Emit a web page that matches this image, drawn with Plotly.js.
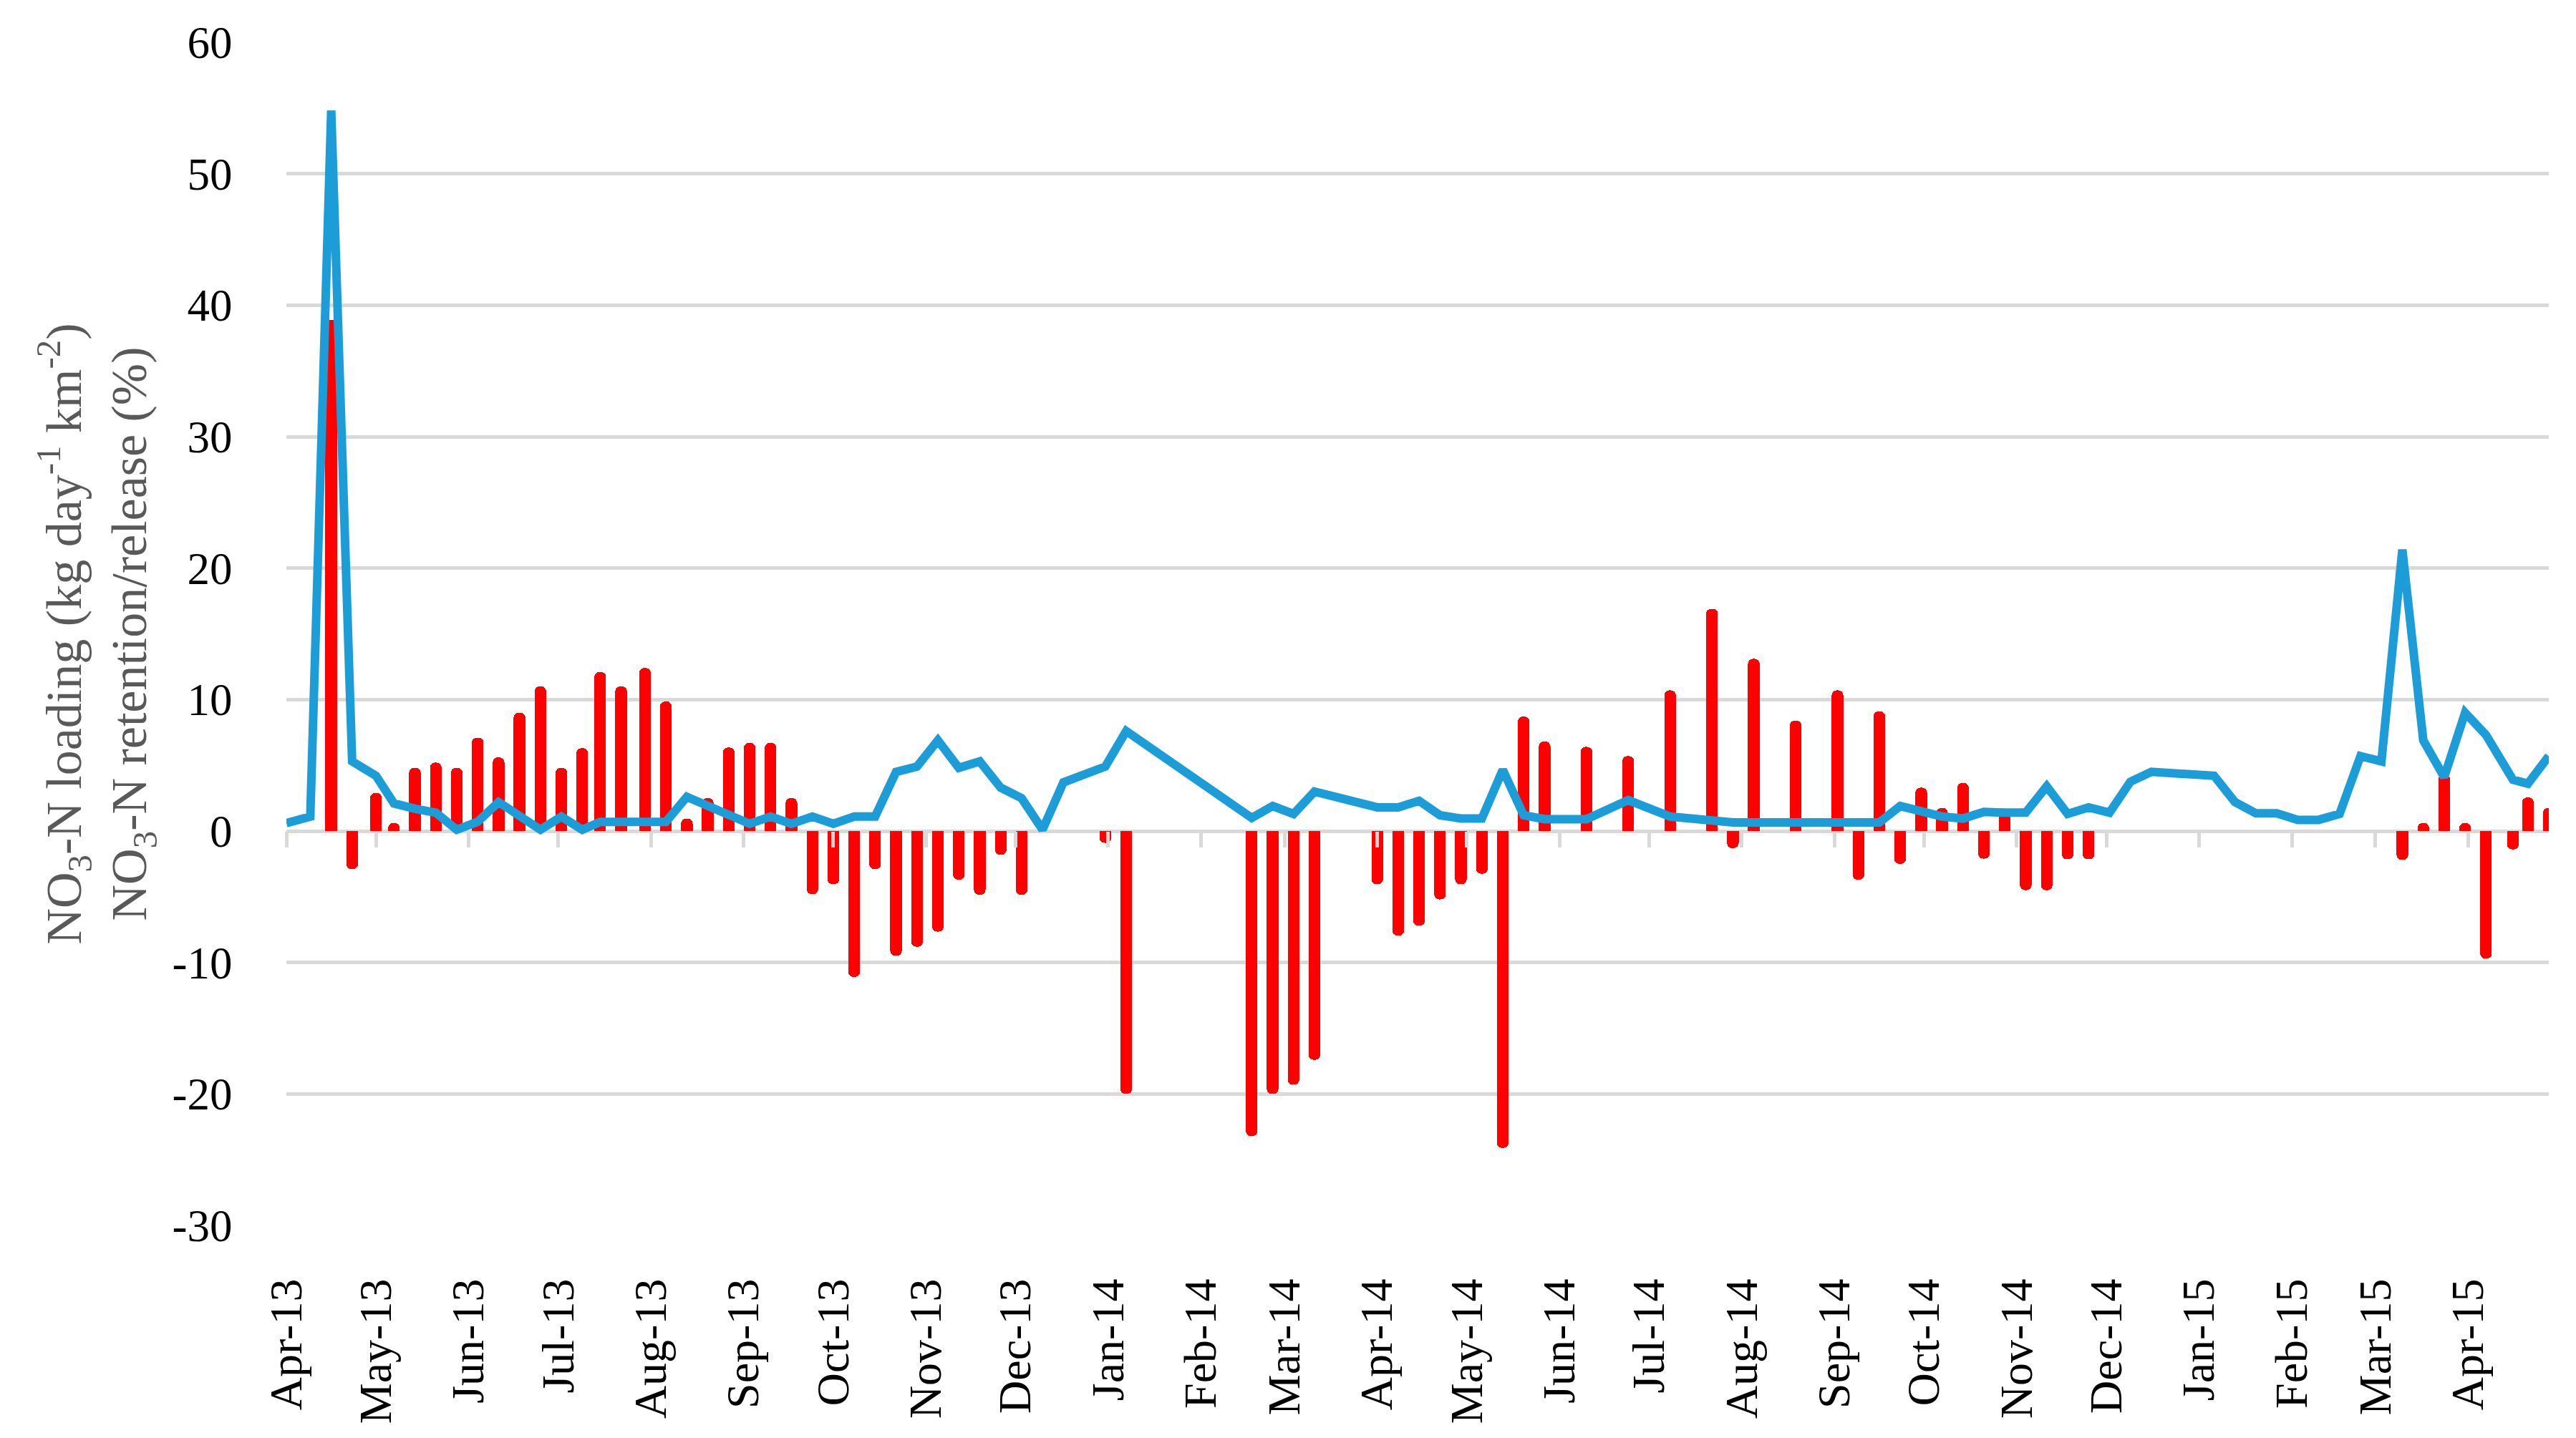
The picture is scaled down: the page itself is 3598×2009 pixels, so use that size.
<!DOCTYPE html>
<html>
<head>
<meta charset="utf-8">
<script src="https://cdn.plot.ly/plotly-3.0.1.min.js"></script>
<style>html,body{margin:0;padding:0;background:#fff;}#chart{width:3598px;height:2009px;}</style>
</head>
<body>
<div id="chart"></div>
<script>
// NO3-N loading (line)
const lineDates = [
  '2013-04-01','2013-04-09','2013-04-16','2013-04-23','2013-05-01','2013-05-07','2013-05-14','2013-05-21','2013-05-28',
  '2013-06-04','2013-06-11','2013-06-18','2013-06-25','2013-07-02','2013-07-09','2013-07-15','2013-07-22','2013-07-30',
  '2013-08-06','2013-08-13','2013-08-20','2013-08-27','2013-09-03','2013-09-10','2013-09-17','2013-09-24','2013-10-01',
  '2013-10-08','2013-10-15','2013-10-22','2013-10-29','2013-11-05','2013-11-12','2013-11-19','2013-11-26','2013-12-03',
  '2013-12-10','2013-12-17','2013-12-31','2014-01-07','2014-02-18','2014-02-25','2014-03-04','2014-03-11','2014-04-01',
  '2014-04-08','2014-04-15','2014-04-22','2014-04-29','2014-05-06','2014-05-13','2014-05-20','2014-05-27','2014-06-10',
  '2014-06-24','2014-07-08','2014-07-22','2014-07-29','2014-08-05','2014-08-19','2014-09-02','2014-09-09','2014-09-16',
  '2014-09-23','2014-09-30','2014-10-07','2014-10-14','2014-10-21','2014-10-28','2014-11-04','2014-11-11','2014-11-18',
  '2014-11-25','2014-12-02','2014-12-09','2014-12-16','2015-01-06','2015-01-13','2015-01-20','2015-01-27','2015-02-03',
  '2015-02-10','2015-02-17','2015-02-24','2015-03-03','2015-03-10','2015-03-17','2015-03-24','2015-03-31','2015-04-07',
  '2015-04-16','2015-04-21','2015-04-28'
];
const lineValues = [
  0.6, 1.1, 54.8, 5.3, 4.2, 2.1, 1.7, 1.4, 0.1,
  0.7, 2.2, 1.1, 0.1, 1.1, 0.1, 0.7, 0.7, 0.7,
  0.7, 2.6, 1.9, 1.1, 0.55, 1.1, 0.55, 1.1, 0.55,
  1.1, 1.1, 4.5, 4.9, 6.9, 4.8, 5.3, 3.3, 2.5,
  0.1, 3.7, 4.9, 7.6, 1.0, 1.9, 1.3, 3.0, 1.8,
  1.8, 2.3, 1.2, 0.95, 0.95, 4.65, 1.2, 0.9, 0.9,
  2.35, 1.1, 0.7, 0.65, 0.65, 0.65, 0.65, 0.65, 0.65,
  1.9, 1.45, 1.1, 0.95, 1.45, 1.4, 1.4, 3.4, 1.3,
  1.8, 1.4, 3.75, 4.5, 4.2, 2.2, 1.35, 1.35, 0.85,
  0.85, 1.3, 5.7, 5.3, 21.4, 6.9, 4.1, 9.0, 7.3,
  3.9, 3.6, 5.7
];
// NO3-N retention/release (bars)
const barDates = [
  '2013-04-16','2013-04-23','2013-05-01','2013-05-07','2013-05-14','2013-05-21','2013-05-28','2013-06-04','2013-06-11',
  '2013-06-18','2013-06-25','2013-07-02','2013-07-09','2013-07-15','2013-07-22','2013-07-30','2013-08-06','2013-08-13',
  '2013-08-20','2013-08-27','2013-09-03','2013-09-10','2013-09-17','2013-09-24','2013-10-01','2013-10-08','2013-10-15',
  '2013-10-22','2013-10-29','2013-11-05','2013-11-12','2013-11-19','2013-11-26','2013-12-03','2013-12-31','2014-01-07',
  '2014-02-18','2014-02-25','2014-03-04','2014-03-11','2014-04-01','2014-04-08','2014-04-15','2014-04-22','2014-04-29',
  '2014-05-06','2014-05-13','2014-05-20','2014-05-27','2014-06-10','2014-06-24','2014-07-08','2014-07-22','2014-07-29',
  '2014-08-05','2014-08-19','2014-09-02','2014-09-09','2014-09-16','2014-09-23','2014-09-30','2014-10-07','2014-10-14',
  '2014-10-21','2014-10-28','2014-11-04','2014-11-11','2014-11-18','2014-11-25','2015-03-10','2015-03-17','2015-03-24',
  '2015-03-31','2015-04-07','2015-04-16','2015-04-21','2015-04-28'
];
const barValues = [
  38.9, -2.9, 2.9, 0.6, 4.8, 5.2, 4.8, 7.1, 5.6,
  9.0, 11.0, 4.8, 6.3, 12.1, 11.0, 12.4, 9.85, 0.95,
  2.5, 6.35, 6.7, 6.7, 2.5, -4.8, -4.05, -11.1, -2.9,
  -9.5, -8.8, -7.65, -3.7, -4.85, -1.8, -4.85, -0.9, -20.0,
  -23.2, -20.0, -19.3, -17.4, -4.05, -7.95, -7.2, -5.2, -4.05,
  -3.25, -24.1, 8.7, 6.8, 6.4, 5.7, 10.7, 16.9, -1.3,
  13.1, 8.4, 10.7, -3.7, 9.1, -2.5, 3.3, 1.75, 3.65,
  -2.1, 1.7, -4.5, -4.5, -2.15, -2.15, -2.2, 0.6, 4.3,
  0.6, -9.7, -1.4, 2.55, 1.75
];
const yTickVals = [-30, -20, -10, 0, 10, 20, 30, 40, 50, 60];
const yTickText = ['-30', '-20', '-10', '0', '10', '20', '30', '40', '50', '60'];
const xRange = ['2013-04-01', '2015-04-28'];
const yTitle = 'NO<sub>3</sub>-N loading (kg day<sup>-1</sup> km<sup>-2</sup>)<br>NO<sub>3</sub>-N retention/release (%)';

const DAY_MS = 86400000;
const FONT = 'Liberation Serif, Times New Roman, serif';

const traces = [
  {
    type: 'bar', x: barDates, y: barValues, width: 3.9 * DAY_MS,
    marker: {color: '#ff0000', cornerradius: 7, line: {width: 0}},
    hoverinfo: 'x+y', showlegend: false
  },
  {
    type: 'scatter', mode: 'lines', x: lineDates, y: lineValues,
    line: {color: '#1d9dd8', width: 12},
    hoverinfo: 'x+y', showlegend: false
  },
  {
    type: 'scatter', mode: 'lines', x: [xRange[0]], y: [null], xaxis: 'x2',
    hoverinfo: 'skip', showlegend: false
  }
];

const layout = {
  width: 3598, height: 2009,
  margin: {l: 400, r: 38, t: 59, b: 297},
  paper_bgcolor: '#ffffff', plot_bgcolor: '#ffffff',
  showlegend: false,
  font: {family: FONT, color: '#000000'},
  bargap: 0,
  xaxis: {
    type: 'date', range: xRange, tick0: '2013-04-01', dtick: 'M1', tickformat: '%b-%y',
    tickangle: -90, ticks: 'outside', ticklen: 48, tickcolor: 'rgba(0,0,0,0)',
    tickfont: {family: FONT, size: 64, color: '#000000'},
    showgrid: false, showline: false, zeroline: false, fixedrange: true
  },
  xaxis2: {
    type: 'date', range: xRange, tick0: '2013-04-01', dtick: 'M1',
    overlaying: 'x', anchor: 'free', position: 1 / 3, side: 'bottom',
    ticks: 'outside', ticklen: 22, tickwidth: 5, tickcolor: '#d9d9d9',
    showticklabels: false, showgrid: false, showline: false, zeroline: false
  },
  yaxis: {
    range: [-30, 60], tickvals: yTickVals, ticktext: yTickText,
    ticks: 'outside', ticklen: 62, tickcolor: 'rgba(0,0,0,0)',
    tickfont: {family: FONT, size: 63, color: '#000000'},
    showgrid: true, gridcolor: '#d9d9d9', gridwidth: 5,
    zeroline: true, zerolinecolor: '#d9d9d9', zerolinewidth: 5,
    showline: false,
    title: {text: yTitle, font: {family: FONT, size: 70, color: '#595959'}, standoff: 12}
  }
};

Plotly.newPlot('chart', traces, layout, {displayModeBar: false, staticPlot: true});
</script>
</body>
</html>
